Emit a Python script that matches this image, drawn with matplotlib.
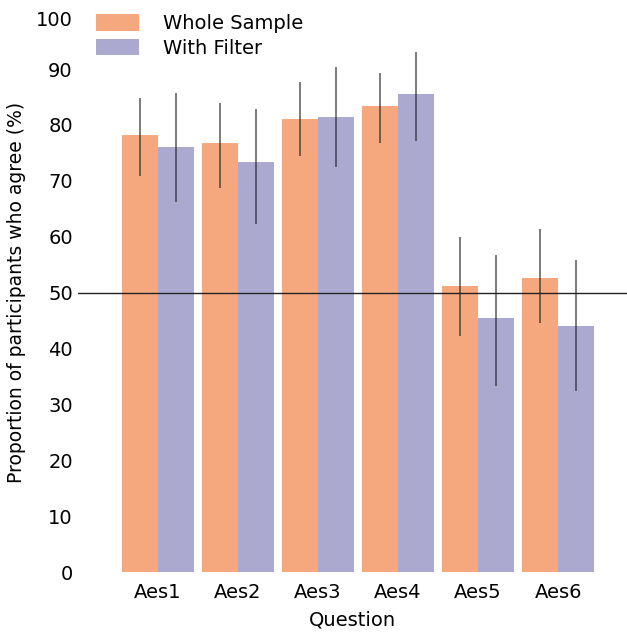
import matplotlib
matplotlib.use("Agg")
import matplotlib.pyplot as plt
import matplotlib.transforms as mtransforms
import numpy as np

questions = ["Aes1", "Aes2", "Aes3", "Aes4", "Aes5", "Aes6"]
whole = [78.2, 76.8, 81.1, 83.4, 51.2, 52.6]
whole_lo = [70.9, 68.7, 74.5, 76.7, 42.3, 44.5]
whole_hi = [84.8, 84.0, 87.7, 89.2, 60.0, 61.4]
filt = [76.1, 73.4, 81.4, 85.5, 45.4, 44.0]
filt_lo = [66.3, 62.3, 72.4, 77.1, 33.3, 32.5]
filt_hi = [85.7, 82.8, 90.3, 93.0, 56.7, 55.8]
yticks = [0, 10, 20, 30, 40, 50, 60, 70, 80, 90, 100]

orange = "#F5A87D"
purple = "#ACA9D1"

plt.rcParams["font.family"] = "DejaVu Sans"
plt.rcParams["font.size"] = 14

fig = plt.figure(figsize=(6.27, 6.33), dpi=100)
ax = fig.add_axes([77.7 / 627, 60.7 / 633, 1 - 77.7 / 627, 559.2 / 633])

x = np.arange(len(questions))
w = 0.45
ax.bar(x - w / 2, whole, w, color=orange, label="Whole Sample")
ax.bar(x + w / 2, filt, w, color=purple, label="With Filter")

# error bars as plain vertical lines, no caps
ax.vlines(x - w / 2, whole_lo, whole_hi, color="#222222", alpha=0.6, lw=1.4)
ax.vlines(x + w / 2, filt_lo, filt_hi, color="#222222", alpha=0.6, lw=1.4)

ax.axhline(50, color="#222222", lw=1.0)

ax.set_xlim(-1.0, 5.86)
ax.set_ylim(0, 100)
ax.set_xticks(x)
ax.set_xticklabels(questions)
ax.set_yticks(yticks)
ax.tick_params(length=0)
ax.tick_params(axis="x", pad=8)
ax.tick_params(axis="y", pad=3.5)
for s in ax.spines.values():
    s.set_visible(False)

# top tick label sits a little lower in the original
lab = ax.get_yticklabels()[-1]
lab.set_transform(lab.get_transform() + mtransforms.ScaledTranslation(0, -5 / 100, fig.dpi_scale_trans))

ax.set_xlabel("Question", labelpad=6)
ax.set_ylabel("Proportion of participants who agree (%)", labelpad=7, fontsize=13.5)

ax.legend(loc="upper left", bbox_to_anchor=(96 / 627, 1 - 14 / 633),
          bbox_transform=fig.transFigure, frameon=False, borderpad=0,
          borderaxespad=0, handlelength=2.2, handleheight=0.93,
          handletextpad=1.25, labelspacing=0.3)

fig.savefig("out.png", dpi=100)
